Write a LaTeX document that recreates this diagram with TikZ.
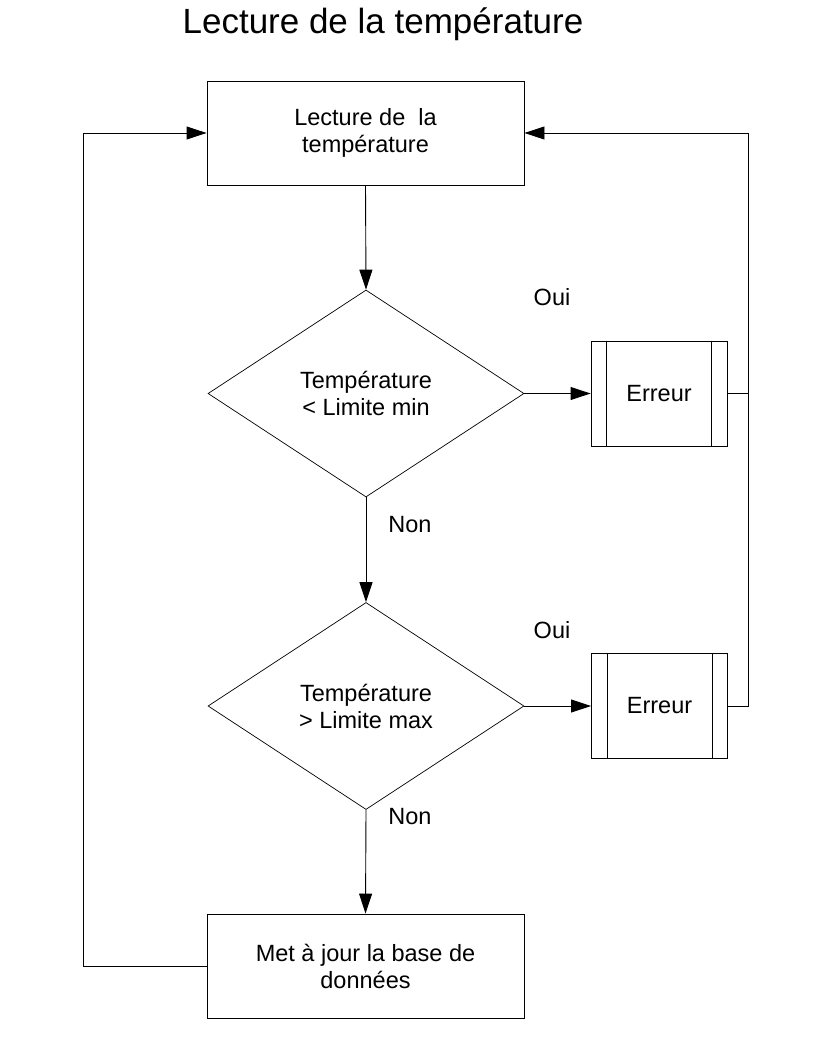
\documentclass[tikz,border=0pt]{standalone}
\usepackage{fontspec}
\setmainfont{Liberation Sans}
\usetikzlibrary{shapes.geometric,arrows.meta}
\begin{document}
\begin{tikzpicture}[x=1pt,y=-1pt,
  every node/.style={font=\fontsize{23.5}{27}\selectfont},
  proc/.style={draw,line width=0.9pt,minimum width=317pt,minimum height=104pt,inner sep=0pt,align=center},
  dec/.style={draw,diamond,line width=0.7pt,minimum width=316pt,minimum height=207pt,inner sep=0pt,align=center},
  sub/.style={draw,line width=0.9pt,minimum width=136pt,minimum height=105pt,inner sep=0pt},
  lab/.style={inner sep=0pt},
  conn/.style={line width=0.9pt},
  arr/.style={conn,-{Triangle[length=20pt,width=13pt]}}]
\useasboundingbox (0,0) rectangle (816,1056);
\node[lab,font=\fontsize{35}{40}\selectfont] (title) at (383,24) {Lecture de la température};
\node[proc] (read) at (365.5,133) {Lecture de \ la\\température};
\node[dec] (d1) at (366,393.5) {Température\\< Limite min};
\node[dec] (d2) at (366,706) {Température\\> Limite max};
\node[proc] (upd) at (365.5,966) {Met à jour la base de\\données};
\node[sub] (e1) at (659,393.5) {Erreur};
\node[sub] (e2) at (659.5,706) {Erreur};
\draw[conn] ([xshift=16pt]e1.north west) -- ([xshift=16pt]e1.south west);
\draw[conn] ([xshift=-16pt]e1.north east) -- ([xshift=-16pt]e1.south east);
\draw[conn] ([xshift=16pt]e2.north west) -- ([xshift=16pt]e2.south west);
\draw[conn] ([xshift=-16pt]e2.north east) -- ([xshift=-16pt]e2.south east);
\node[lab] (oui1) at (552,297) {Oui};
\node[lab] (non1) at (410,525) {Non};
\node[lab] (oui2) at (552,630) {Oui};
\node[lab] (non2) at (410,817) {Non};
\coordinate (rr) at (748,133);
\coordinate (ll) at (83,133);
\draw[arr] (read.south) -- (d1.north);
\draw[arr] (d1.south) -- (d2.north);
\draw[arr] (d2.south) -- (upd.north);
\draw[arr] (d1.east) -- (e1.west);
\draw[arr] (d2.east) -- (e2.west);
\draw[conn] (e2.east) -| (rr);
\draw[conn] (e1.east) -- (e1.east -| rr);
\draw[arr] (rr) -- (read.east);
\draw[arr] (upd.west) -| (ll) -- (read.west);
\end{tikzpicture}
\end{document}
